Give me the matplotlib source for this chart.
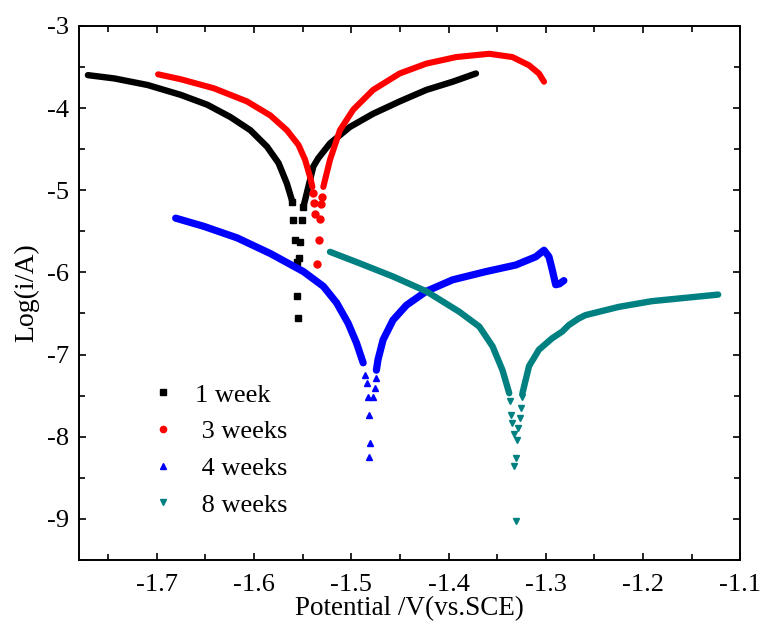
import matplotlib
matplotlib.use("Agg")
import matplotlib.pyplot as plt
from matplotlib.ticker import MultipleLocator

plt.rcParams['font.family'] = ['Liberation Serif', 'DejaVu Serif']
plt.rcParams['axes.unicode_minus'] = False

# 1 week
w1_cath_v = [-1.7709, -1.7437, -1.7095, -1.6754, -1.6481, -1.6243, -1.6038, -1.5867, -1.5748, -1.5662, -1.5611]
w1_cath_l = [-3.60, -3.64, -3.72, -3.84, -3.96, -4.11, -4.27, -4.47, -4.67, -4.92, -5.12]
w1_pts_v = [-1.5611, -1.5595, -1.5577, -1.5560, -1.5560, -1.5550, -1.5533, -1.5526, -1.5509, -1.5492]
w1_pts_l = [-5.14, -5.36, -5.61, -5.87, -6.29, -6.56, -5.83, -5.63, -5.36, -5.20]
w1_an_v = [-1.5492, -1.539, -1.5339, -1.5219, -1.5014, -1.4776, -1.4503, -1.4229, -1.3957, -1.3718]
w1_an_l = [-5.20, -4.71, -4.61, -4.43, -4.23, -4.07, -3.92, -3.78, -3.68, -3.58]

# 3 weeks
w3_cath_v = [-1.6987, -1.6754, -1.6413, -1.6072, -1.5833, -1.5662, -1.5543, -1.5475, -1.5424, -1.5400]
w3_cath_l = [-3.59, -3.65, -3.76, -3.92, -4.09, -4.27, -4.45, -4.63, -4.84, -4.96]
w3_pts_v = [-1.5396, -1.5383, -1.5373, -1.5304, -1.5314, -1.5321, -1.5331, -1.5355]
w3_pts_l = [-5.04, -5.16, -5.29, -5.08, -5.17, -5.35, -5.61, -5.90]
w3_an_v = [-1.5288, -1.5219, -1.5117, -1.4980, -1.4776, -1.4503, -1.4229, -1.3922, -1.3581,
           -1.3343, -1.3172, -1.3070, -1.3018]
w3_an_l = [-4.96, -4.63, -4.27, -4.02, -3.78, -3.58, -3.46, -3.38, -3.34,
           -3.38, -3.48, -3.58, -3.68]

# 4 weeks
w4_cath_v = [-1.6806, -1.6516, -1.6174, -1.5833, -1.5492, -1.5287, -1.5151, -1.5032, -1.4946, -1.4878]
w4_cath_l = [-5.34, -5.44, -5.58, -5.77, -5.99, -6.17, -6.37, -6.62, -6.86, -7.10]
w4_pts_v = [-1.4860, -1.4842, -1.4831, -1.4821, -1.4807, -1.4814, -1.4776, -1.4759, -1.4749]
w4_pts_l = [-7.25, -7.35, -7.51, -7.73, -8.08, -8.24, -7.51, -7.41, -7.29]
w4_an_v = [-1.4742, -1.4725, -1.4673, -1.4571, -1.4434, -1.4229, -1.3957, -1.3615, -1.3308,
           -1.3103, -1.3018, -1.2967, -1.2933, -1.2898, -1.2860, -1.2814]
w4_an_l = [-7.19, -7.06, -6.82, -6.58, -6.40, -6.23, -6.09, -5.99, -5.91,
           -5.81, -5.73, -5.81, -5.97, -6.15, -6.14, -6.10]

# 8 weeks
w8_cath_v = [-1.5219, -1.4912, -1.4571, -1.4229, -1.3888, -1.3683, -1.3547, -1.3445, -1.3376]
w8_cath_l = [-5.75, -5.89, -6.05, -6.23, -6.48, -6.66, -6.90, -7.19, -7.47]
w8_pts_v = [-1.3370, -1.3360, -1.3343, -1.3326, -1.3309, -1.3326, -1.3309,
            -1.3292, -1.3282, -1.3268, -1.3257, -1.3247]
w8_pts_l = [-7.57, -7.73, -7.83, -7.97, -8.26, -8.36, -9.03,
            -8.04, -7.89, -7.77, -7.65, -7.51]
w8_an_v = [-1.3240, -1.3172, -1.3070, -1.2933, -1.2831, -1.2762, -1.2660, -1.2592,
           -1.2251, -1.1910, -1.1568, -1.1227]
w8_an_l = [-7.47, -7.14, -6.94, -6.80, -6.72, -6.64, -6.56, -6.52,
           -6.42, -6.35, -6.31, -6.27]

labels = ["1 week", " 3 weeks", " 4 weeks", " 8 weeks"]
colors = ["black", "#ff0000", "#0000ff", "#008080"]
markers = ["s", "o", "^", "v"]


def Main():
    fig = plt.figure(figsize=(7.6, 6.3), dpi=100)
    ax = fig.add_axes([0.104, 0.111, 0.870, 0.848])

    series = [
        (w1_cath_v, w1_cath_l, w1_pts_v, w1_pts_l, w1_an_v, w1_an_l, 4.6),
        (w3_cath_v, w3_cath_l, w3_pts_v, w3_pts_l, w3_an_v, w3_an_l, 4.4),
        (w4_cath_v, w4_cath_l, w4_pts_v, w4_pts_l, w4_an_v, w4_an_l, 5.2),
        (w8_cath_v, w8_cath_l, w8_pts_v, w8_pts_l, w8_an_v, w8_an_l, 4.6),
    ]
    for (cv, cl, pv, pl, av, al, lw), lab, col, mk in zip(series, labels, colors, markers):
        ax.plot(cv, cl, color=col, lw=lw, solid_capstyle='round', solid_joinstyle='round')
        ax.plot(av, al, color=col, lw=lw, solid_capstyle='round', solid_joinstyle='round')
        ax.plot(pv, pl, ls='none', marker=mk, color=col, markersize=5, label=lab)

    ax.set_xlim(-1.78, -1.1)
    ax.set_ylim(-9.5, -3)
    ax.xaxis.set_major_locator(MultipleLocator(0.1))
    ax.xaxis.set_minor_locator(MultipleLocator(0.05))
    ax.yaxis.set_major_locator(MultipleLocator(1))
    ax.yaxis.set_minor_locator(MultipleLocator(0.5))
    ax.tick_params(which='both', direction='in', top=True, right=True, width=1.2)
    ax.tick_params(which='major', length=5, labelsize=19)
    ax.tick_params(which='minor', length=4)
    ax.tick_params(axis='x', pad=10)
    ax.tick_params(axis='y', pad=7)
    for sp in ax.spines.values():
        sp.set_linewidth(1.4)

    ax.set_xlabel("Potential /V(vs.SCE)", fontsize=19.5, labelpad=0)
    ax.set_ylabel("Log(i/A)", fontsize=20, labelpad=6)

    ax.legend(loc='upper left', bbox_to_anchor=(0.111, 0.331), frameon=False, fontsize=19,
              borderpad=0, borderaxespad=0, handletextpad=0.8, labelspacing=0.5,
              handlelength=0.8, markerscale=0.9)

    fig.savefig("out.png", dpi=100)
    plt.close(fig)


if __name__ == "__main__":
    Main()
